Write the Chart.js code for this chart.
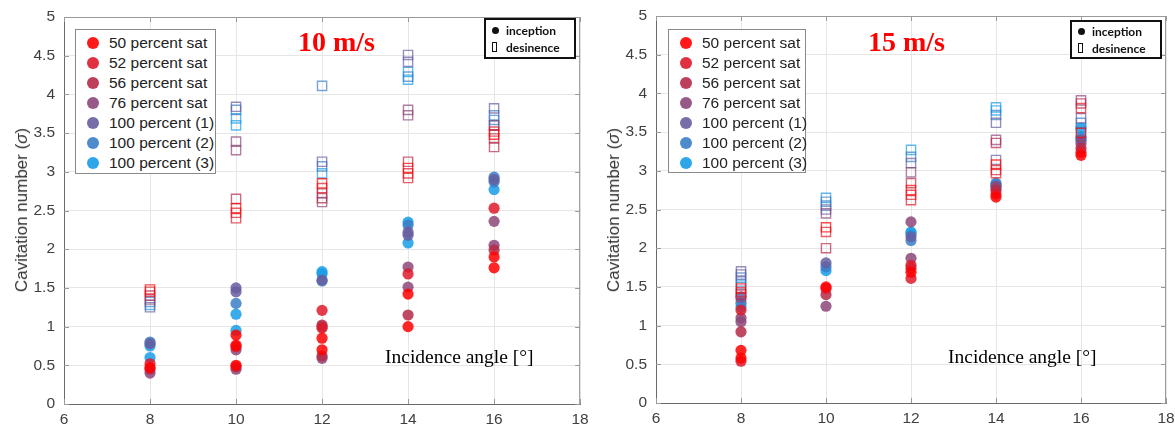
<!DOCTYPE html>
<html>
<head>
<meta charset="utf-8">
<script src="https://cdn.jsdelivr.net/npm/chart.js@4.4.1/dist/chart.umd.min.js"></script>
<style>
  body { margin: 0; background: #fff; width: 1175px; height: 427px; overflow: hidden; position: relative; font-family: "Liberation Sans", Arial, sans-serif; }
  .panel { position: absolute; top: 0; height: 427px; }
  .ytitle { position: absolute; font-size: 17px; color: #333; white-space: nowrap; transform: translate(-50%, -50%) rotate(-90deg); }
  .speed { position: absolute; font-family: "Liberation Serif", "Times New Roman", serif; font-weight: bold; font-size: 28px; color: #f00; line-height: 1; }
  .xtitle { position: absolute; font-family: "Liberation Serif", "Times New Roman", serif; font-size: 19.5px; color: #000; line-height: 1; white-space: nowrap; }
  .legend { position: absolute; background: #fff; border: 1px solid #8a8a8a; box-sizing: border-box; padding-top: 3px; }
  .legend div { height: 20px; line-height: 20px; font-size: 15.5px; color: #222; position: relative; padding-left: 33px; white-space: nowrap; }
  .legend span { position: absolute; left: 11px; top: 4px; width: 12px; height: 12px; border-radius: 50%; }
  .kind { position: absolute; background: #fff; border: 2px solid #111; box-sizing: border-box; font-family: Lato, "Open Sans", sans-serif; font-weight: bold; font-size: 12px; color: #111; }
  .kind div { height: 17px; line-height: 17px; position: relative; padding-left: 20px; white-space: nowrap; }
  .kind .dot { position: absolute; left: 6px; top: 5px; width: 7px; height: 7px; border-radius: 50%; background: #111; }
  .kind .box { position: absolute; left: 6px; top: 3px; width: 5px; height: 10px; border: 1.5px solid #111; box-sizing: border-box; }
</style>
</head>
<body>

<div class="panel" style="left:0;width:588px"><canvas id="chart10"></canvas></div>
<div class="panel" style="left:588px;width:587px"><canvas id="chart15"></canvas></div>

<div class="ytitle" style="left:22px;top:210px">Cavitation number (<i>σ</i>)</div>
<div class="ytitle" style="left:614px;top:210px">Cavitation number (<i>σ</i>)</div>

<div class="speed" style="left:298px;top:28px">10 m/s</div>
<div class="speed" style="left:868px;top:28px">15 m/s</div>

<div class="xtitle" style="left:385px;top:347px">Incidence angle [°]</div>
<div class="xtitle" style="left:948px;top:347px">Incidence angle [°]</div>

<div class="legend" id="legend10" style="left:75px;top:29px;width:141px;height:145px"></div>
<div class="legend" id="legend15" style="left:668px;top:29px;width:138px;height:144px"></div>

<div class="kind" style="left:484px;top:18px;width:92px;height:41px;padding-top:2px">
  <div><span class="dot"></span>inception</div>
  <div><span class="box"></span>desinence</div>
</div>
<div class="kind" style="left:1070px;top:20px;width:92px;height:39px;padding-top:1px">
  <div><span class="dot"></span>inception</div>
  <div><span class="box"></span>desinence</div>
</div>

<script>
// Incidence angles where measurements were taken
const angles = [8, 10, 12, 14, 16];
const seriesNames = ['50 percent sat', '52 percent sat', '56 percent sat', '76 percent sat',
                     '100 percent (1)', '100 percent (2)', '100 percent (3)'];
const seriesColors = ['255,0,0', '222,26,42', '182,42,72', '140,72,122',
                      '102,94,160', '58,126,200', '24,156,232'];

// 10 m/s - one row per series, one list of sigma values per angle
const inception10 = [
  [[0.47], [0.89, 0.76, 0.50], [0.85, 0.70], [1.00, 1.42], [1.76, 1.90]],
  [[0.52], [0.74], [1.21, 0.98], [1.68], [2.53]],
  [[0.45], [0.48], [1.02, 0.62], [1.15], [1.99]],
  [[0.40], [0.70, 0.45], [0.59, 1.00], [1.77, 1.51], [2.36, 2.05]],
  [[0.78], [1.50, 1.45], [1.60], [2.22, 2.18], [2.90]],
  [[0.80], [1.30], [1.59], [2.31], [2.93, 2.87]],
  [[0.75, 0.60], [1.16, 0.95], [1.71, 1.68], [2.35, 2.08], [2.77]]
];
const desinence10 = [
  [[1.48], [2.53], [2.85], [3.05], [3.48]],
  [[1.45], [2.47, 2.40], [2.79], [2.98, 2.92], [3.52]],
  [[1.40], [2.65], [2.66], [3.13], [3.32, 3.43]],
  [[1.35], [3.39, 3.28], [2.61, 2.72], [3.80, 3.73], [3.60]],
  [[1.25], [3.84], [3.13], [4.51, 4.42], [3.82]],
  [[1.32], [3.80], [4.11, 3.07], [4.23], [3.73, 3.67]],
  [[1.28], [3.69, 3.60], [2.98], [4.29, 4.19], [3.60]]
];

// 15 m/s
const inception15 = [
  [[0.68, 0.58], [1.50], [1.69], [2.66], [3.20]],
  [[1.20, 0.54], [1.48], [1.61, 1.78], [2.70], [3.24]],
  [[0.92], [1.40], [1.74], [2.75], [3.29]],
  [[1.10, 1.05], [1.25], [2.34, 1.87], [2.80], [3.35]],
  [[1.37], [1.81], [2.15], [2.78], [3.40]],
  [[1.29], [1.76], [2.10], [2.84], [3.44]],
  [[1.24], [1.71], [2.21, 2.19], [2.82], [3.40, 3.55]]
];
const desinence15 = [
  [[1.48], [2.27], [2.75], [3.08], [3.49]],
  [[1.43], [2.21], [2.69, 2.62], [3.01, 2.97], [3.81]],
  [[1.40], [2.00], [2.84], [3.36], [3.87]],
  [[1.37], [2.45], [2.98], [3.40], [3.91]],
  [[1.70, 1.66], [2.50], [3.10], [3.62, 3.14], [3.68]],
  [[1.62, 1.57], [2.55, 2.60], [3.18], [3.72], [3.62]],
  [[1.53], [2.65], [3.27], [3.82, 3.78], [3.55]]
];

const xMin = 6, xMax = 18, xStep = 2;
const yMin = 0, yMax = 5, yStep = 0.5;

function toPoints(perAngle) {
  const pts = [];
  perAngle.forEach((vals, i) => vals.forEach(v => pts.push({ x: angles[i], y: v })));
  return pts;
}

// box around the plot plus small inward ticks, MATLAB style
const boxPlugin = {
  id: 'box',
  afterDatasetsDraw(chart) {
    const { ctx, chartArea: a, scales } = chart;
    ctx.save();
    ctx.strokeStyle = '#9a9a9a';
    ctx.lineWidth = 1;
    ctx.beginPath();
    ctx.moveTo(a.left, a.top + 0.5);
    ctx.lineTo(a.right - 0.5, a.top + 0.5);
    ctx.lineTo(a.right - 0.5, a.bottom);
    scales.y.ticks.forEach(t => {
      const py = Math.round(scales.y.getPixelForValue(t.value)) + 0.5;
      ctx.moveTo(a.right, py); ctx.lineTo(a.right - 5, py);
      ctx.moveTo(a.left, py); ctx.lineTo(a.left + 5, py);
    });
    scales.x.ticks.forEach(t => {
      const px = Math.round(scales.x.getPixelForValue(t.value)) + 0.5;
      ctx.moveTo(px, a.top); ctx.lineTo(px, a.top + 5);
      ctx.moveTo(px, a.bottom); ctx.lineTo(px, a.bottom - 5);
    });
    ctx.stroke();
    ctx.restore();
  }
};

function makeChart(id, inc, des, yWidth, xHeight, pad) {
  const datasets = [];
  des.forEach((s, k) => datasets.push({
    label: seriesNames[k] + ' desinence',
    data: toPoints(s),
    pointStyle: 'rect',
    pointRadius: 6.5,
    backgroundColor: 'rgba(255,255,255,0)',
    borderColor: 'rgba(' + seriesColors[k] + ',0.7)',
    borderWidth: 1.4
  }));
  inc.forEach((s, k) => datasets.push({
    label: seriesNames[k],
    data: toPoints(s),
    pointStyle: 'circle',
    pointRadius: 5.6,
    backgroundColor: 'rgba(' + seriesColors[k] + ',0.85)',
    borderWidth: 0
  }));

  new Chart(document.getElementById(id), {
    type: 'scatter',
    data: { datasets },
    options: {
      responsive: true,
      maintainAspectRatio: false,
      animation: false,
      layout: { padding: pad },
      plugins: { legend: { display: false }, tooltip: { enabled: false } },
      scales: {
        x: {
          type: 'linear', min: xMin, max: xMax,
          afterFit: s => { s.height = xHeight; s.paddingLeft = 0; s.paddingRight = 0; },
          ticks: { stepSize: xStep, padding: 6, color: '#404040', font: { family: 'Liberation Sans', size: 15.5 } },
          grid: { color: '#e6e6e6', drawTicks: false },
          border: { color: '#6a6a6a' }
        },
        y: {
          min: yMin, max: yMax,
          afterFit: s => { s.width = yWidth; s.paddingTop = 0; s.paddingBottom = 0; },
          ticks: { stepSize: yStep, padding: 9, color: '#404040', font: { family: 'Liberation Sans', size: 15.5 },
                   callback: v => String(v) },
          grid: { color: '#e6e6e6', drawTicks: false },
          border: { color: '#6a6a6a' }
        }
      }
    },
    plugins: [boxPlugin]
  });
}

function makeLegend(id) {
  const el = document.getElementById(id);
  seriesNames.forEach((name, k) => {
    const row = document.createElement('div');
    row.innerHTML = '<span style="background:rgba(' + seriesColors[k] + ',0.9)"></span>' + name;
    el.appendChild(row);
  });
}

makeChart('chart10', inception10, desinence10, 64, 23, { top: 17, right: 2, left: 0, bottom: 0 });
makeChart('chart15', inception15, desinence15, 68, 24, { top: 16, right: 9, left: 0, bottom: 0 });
makeLegend('legend10');
makeLegend('legend15');
</script>
</body>
</html>
